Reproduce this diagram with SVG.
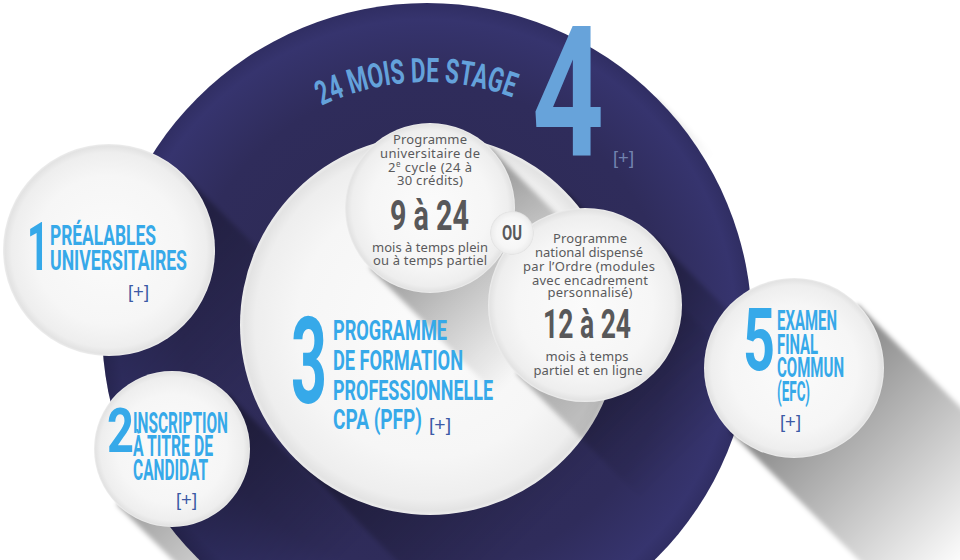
<svg xmlns="http://www.w3.org/2000/svg" width="960" height="560" viewBox="0 0 960 560">
<style>
.hd{font-family:Roboto,"Liberation Sans",sans-serif;font-weight:700;fill:#36a9e9}
.gr{font-family:"Noto Sans","Open Sans","Liberation Sans",sans-serif;font-size:13px;fill:#5a5a5c;text-anchor:middle}
.bn{font-family:Roboto,"Liberation Sans",sans-serif;font-weight:700;fill:#58585a}
.pl{font-family:"Liberation Sans",Arial,sans-serif;font-size:19px;fill:#3c5aa6}
.wc{fill:url(#wg)}
.sh{filter:url(#blur)}
</style>
<defs>
<radialGradient id="dg" cx="427" cy="328" r="325" gradientUnits="userSpaceOnUse">
<stop offset="0" stop-color="#2c2950"/>
<stop offset="0.75" stop-color="#2f2c5b"/>
<stop offset="0.95" stop-color="#36346e"/>
<stop offset="1" stop-color="#302e63"/>
</radialGradient>
<radialGradient id="wg" cx="0.5" cy="0.5" r="0.5">
<stop offset="0" stop-color="#fbfbfb"/>
<stop offset="0.7" stop-color="#f6f6f6"/>
<stop offset="0.92" stop-color="#eeeeee"/>
<stop offset="0.98" stop-color="#e3e3e3"/>
<stop offset="1" stop-color="#ededed"/>
</radialGradient>
<filter id="blur" x="-20%" y="-20%" width="140%" height="140%"><feGaussianBlur stdDeviation="2.5"/></filter>
<clipPath id="dclip"><circle cx="427" cy="328" r="325"/></clipPath>
<linearGradient id="s5" gradientUnits="userSpaceOnUse" x1="794" y1="368" x2="978" y2="552"><stop offset="0" stop-color="#000" stop-opacity="0.5"/><stop offset="1" stop-color="#000" stop-opacity="0"/></linearGradient>
<linearGradient id="s1" gradientUnits="userSpaceOnUse" x1="109" y1="250" x2="250" y2="391"><stop offset="0" stop-color="#000" stop-opacity="0.35"/><stop offset="1" stop-color="#000" stop-opacity="0"/></linearGradient>
<linearGradient id="s2" gradientUnits="userSpaceOnUse" x1="172" y1="449" x2="313" y2="590"><stop offset="0" stop-color="#000" stop-opacity="0.4"/><stop offset="1" stop-color="#000" stop-opacity="0"/></linearGradient>
<linearGradient id="s3" gradientUnits="userSpaceOnUse" x1="430" y1="325" x2="586" y2="481"><stop offset="0" stop-color="#000" stop-opacity="0.4"/><stop offset="1" stop-color="#000" stop-opacity="0"/></linearGradient>
<linearGradient id="sa" gradientUnits="userSpaceOnUse" x1="430" y1="208" x2="557" y2="335"><stop offset="0" stop-color="#000" stop-opacity="0.4"/><stop offset="1" stop-color="#000" stop-opacity="0"/></linearGradient>
<linearGradient id="sb" gradientUnits="userSpaceOnUse" x1="585" y1="305" x2="712" y2="432"><stop offset="0" stop-color="#000" stop-opacity="0.35"/><stop offset="1" stop-color="#000" stop-opacity="0"/></linearGradient>
<linearGradient id="sd" gradientUnits="userSpaceOnUse" x1="427" y1="328" x2="484" y2="385"><stop offset="0" stop-color="#000" stop-opacity="0.14"/><stop offset="1" stop-color="#000" stop-opacity="0"/></linearGradient>
<path id="arc" d="M 268.9,139.6 A 246 246 0 0 1 585.1,139.6" fill="none"/>
</defs>

<rect width="960" height="560" fill="#ffffff"/>

<g id="node-4">
<path class="sh" d="M 656.8,98.2 L 699.2,140.6 A 325 325 0 0 1 239.4,600.4 L 197.2,558 Z" fill="url(#sd)"/>
<circle cx="427" cy="328" r="325" fill="url(#dg)"/>
<text class="hd" font-size="34" fill="#64a2db" style="fill:#64a2db"><textPath href="#arc" startOffset="160.8" text-anchor="middle" textLength="196" lengthAdjust="spacingAndGlyphs">24 MOIS DE STAGE</textPath></text>
<text class="hd" x="532" y="155" font-size="182" textLength="72" lengthAdjust="spacingAndGlyphs" style="fill:#67a3da">4</text>
<text class="pl" x="613" y="164" textLength="21" lengthAdjust="spacingAndGlyphs" style="fill:#7283af">[+]</text>
</g>

<g id="shadows">
<g clip-path="url(#dclip)">
<path class="sh" d="M 184,175 L 325.4,316.4 A 106 106 0 0 1 175.4,466.4 L 34,325 Z" fill="url(#s1)"/>
<path class="sh" d="M 564.4,190.6 L 720,346.2 A 190 190 0 0 1 451.2,615 L 295.6,459.4 Z" fill="url(#s3)"/>
</g>
<path class="sh" d="M 227.2,393.8 L 368.6,535.2 A 78 78 0 0 1 258.2,645.6 L 116.8,504.2 Z" fill="url(#s2)"/>
<path class="sh" d="M 857.6,304.4 L 1041.4,488.2 A 90 90 0 0 1 914.2,615.4 L 730.4,431.6 Z" fill="url(#s5)"/>
</g>

<g id="node-1">
<circle class="wc" cx="109" cy="250" r="106"/>
<text class="hd" x="27" y="270" font-size="67" textLength="22" lengthAdjust="spacingAndGlyphs">1</text>
<text class="hd" x="50" y="245" font-size="28" textLength="106" lengthAdjust="spacingAndGlyphs">PRÉALABLES</text>
<text class="hd" x="50" y="270" font-size="28" textLength="137" lengthAdjust="spacingAndGlyphs">UNIVERSITAIRES</text>
<text class="pl" x="128" y="298" textLength="21" lengthAdjust="spacingAndGlyphs">[+]</text>
</g>

<g id="node-2">
<circle class="wc" cx="172" cy="449" r="78"/>
<text class="hd" x="107" y="452" font-size="62" textLength="27" lengthAdjust="spacingAndGlyphs">2</text>
<text class="hd" x="133" y="433" font-size="29" textLength="95" lengthAdjust="spacingAndGlyphs">INSCRIPTION</text>
<text class="hd" x="133" y="456" font-size="29" textLength="80" lengthAdjust="spacingAndGlyphs">À TITRE DE</text>
<text class="hd" x="133" y="480" font-size="29" textLength="75" lengthAdjust="spacingAndGlyphs">CANDIDAT</text>
<text class="pl" x="176" y="506" textLength="21" lengthAdjust="spacingAndGlyphs">[+]</text>
</g>

<g id="node-3">
<circle class="wc" cx="430" cy="325" r="190"/>
<g clip-path="url(#dclip)">
<path class="sh" d="M 490.1,147.9 L 617.4,275.2 A 85 85 0 0 1 497.2,395.4 L 369.9,268.1 Z" fill="url(#sa)"/>
<path class="sh" d="M 653.6,236.4 L 780.9,363.7 A 97 97 0 0 1 643.7,500.9 L 516.4,373.6 Z" fill="url(#sb)"/>
</g>
<text class="hd" x="291" y="403" font-size="120" textLength="36" lengthAdjust="spacingAndGlyphs">3</text>
<text class="hd" x="333" y="340" font-size="28" textLength="114" lengthAdjust="spacingAndGlyphs">PROGRAMME</text>
<text class="hd" x="333" y="370" font-size="28" textLength="130" lengthAdjust="spacingAndGlyphs">DE FORMATION</text>
<text class="hd" x="333" y="400" font-size="28" textLength="160" lengthAdjust="spacingAndGlyphs">PROFESSIONNELLE</text>
<text class="hd" x="333" y="429" font-size="28" textLength="89" lengthAdjust="spacingAndGlyphs">CPA (PFP)</text>
<text class="pl" x="429" y="431" textLength="22" lengthAdjust="spacingAndGlyphs">[+]</text>
</g>

<g id="node-3a">
<circle class="wc" cx="430" cy="208" r="85"/>
<text class="gr" x="430" y="144" textLength="74">Programme</text>
<text class="gr" x="430" y="158" textLength="100">universitaire de</text>
<text class="gr" x="430" y="172" textLength="84">2<tspan font-size="8" dy="-5">e</tspan><tspan dy="5"> cycle (24 à</tspan></text>
<text class="gr" x="430" y="185" textLength="66">30 crédits)</text>
<text class="bn" x="390" y="230" font-size="42" textLength="79" lengthAdjust="spacingAndGlyphs">9 à 24</text>
<text class="gr" x="430" y="252" textLength="116">mois à temps plein</text>
<text class="gr" x="430" y="265" textLength="114">ou à temps partiel</text>
</g>

<g id="node-3b">
<circle class="wc" cx="585" cy="305" r="97"/>
<text class="gr" x="590" y="243" textLength="74">Programme</text>
<text class="gr" x="589" y="257" textLength="108">national dispensé</text>
<text class="gr" x="589" y="271" textLength="132">par l’Ordre (modules</text>
<text class="gr" x="590" y="285" textLength="116">avec encadrement</text>
<text class="gr" x="590" y="297" textLength="85">personnalisé)</text>
<text class="bn" x="543" y="338" font-size="41" textLength="88" lengthAdjust="spacingAndGlyphs">12 à 24</text>
<text class="gr" x="587" y="361" textLength="83">mois à temps</text>
<text class="gr" x="588" y="375" textLength="109">partiel et en ligne</text>
</g>

<g id="node-ou">
<circle cx="512" cy="233" r="22" fill="url(#wg)"/>
<text class="bn" x="502" y="240" font-size="21" textLength="20" lengthAdjust="spacingAndGlyphs">OU</text>
</g>

<g id="node-5">
<circle class="wc" cx="794" cy="368" r="90"/>
<text class="hd" x="743" y="370" font-size="87" textLength="32" lengthAdjust="spacingAndGlyphs">5</text>
<text class="hd" x="777" y="330" font-size="27" textLength="60" lengthAdjust="spacingAndGlyphs">EXAMEN</text>
<text class="hd" x="777" y="354" font-size="27" textLength="41" lengthAdjust="spacingAndGlyphs">FINAL</text>
<text class="hd" x="777" y="377" font-size="27" textLength="67" lengthAdjust="spacingAndGlyphs">COMMUN</text>
<text class="hd" x="777" y="401" font-size="27" textLength="33" lengthAdjust="spacingAndGlyphs">(EFC)</text>
<text class="pl" x="780" y="428" textLength="21" lengthAdjust="spacingAndGlyphs">[+]</text>
</g>

<g id="connectors"/>
</svg>
